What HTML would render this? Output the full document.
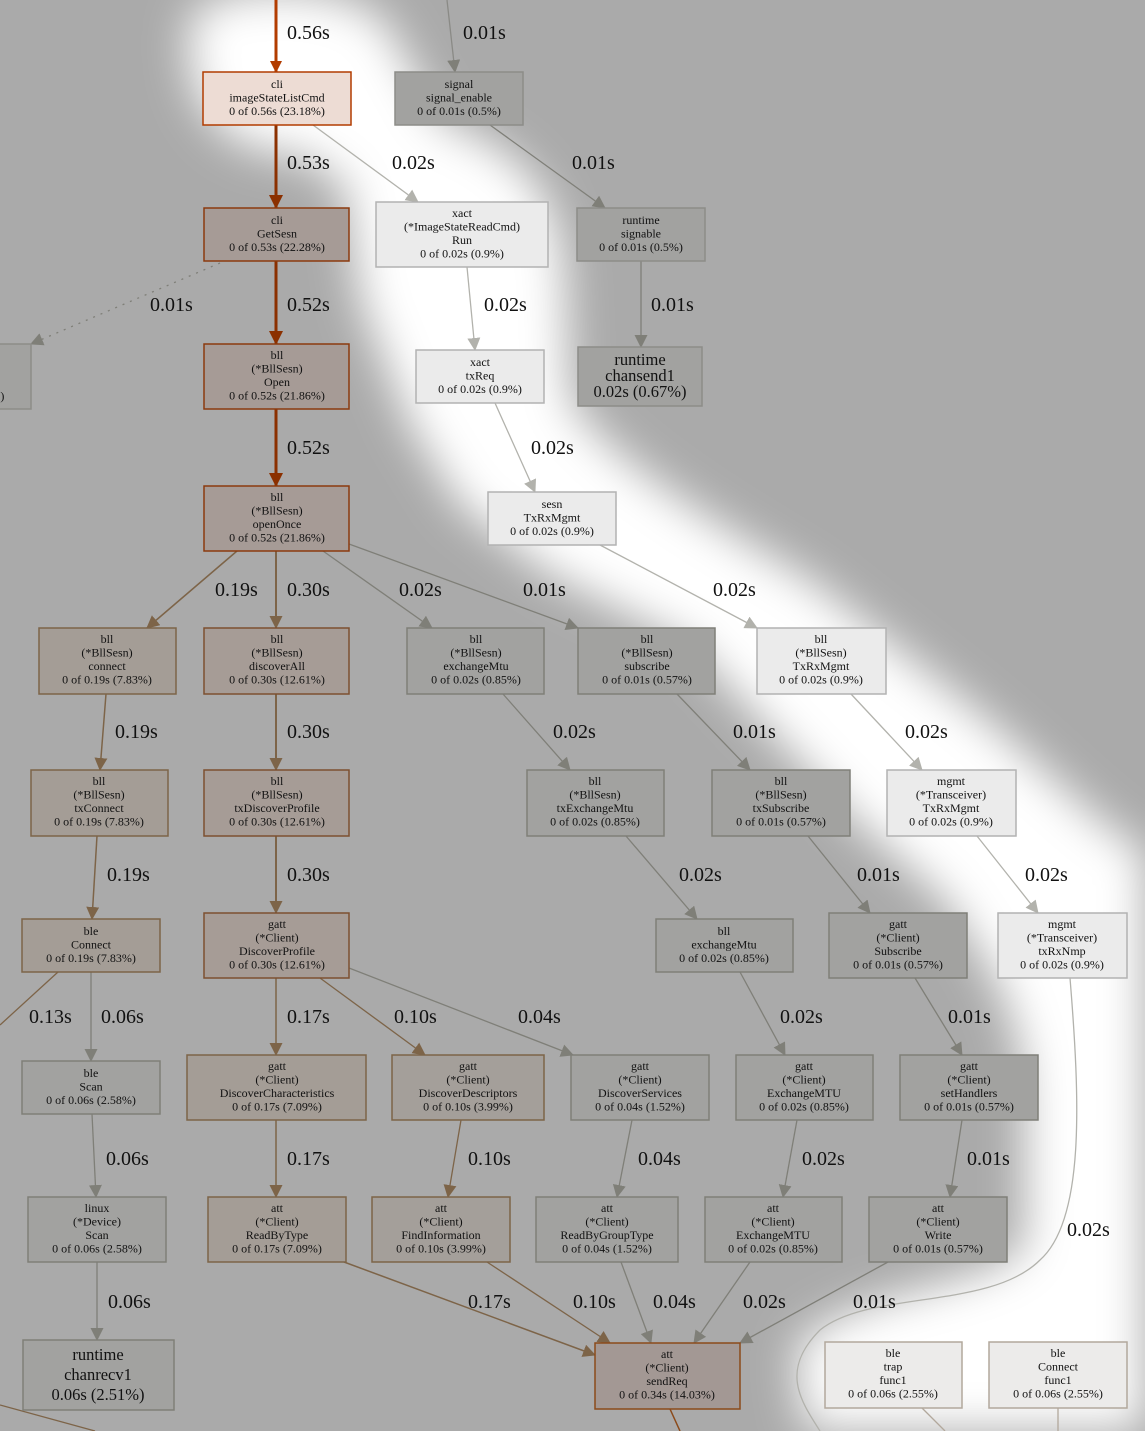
<!DOCTYPE html>
<html><head><meta charset="utf-8"><style>
html,body{margin:0;padding:0;background:#aaaaaa;}
svg{display:block}
text{font-family:"Liberation Serif",serif;fill:#111}
.n text{font-size:12px;text-anchor:middle}
.l{font-size:20px}
.big text{font-size:16.5px}
</style></head><body>
<svg width="1145" height="1431" viewBox="0 0 1145 1431" xmlns="http://www.w3.org/2000/svg">
<defs>
<filter id="b" x="-20%" y="-20%" width="140%" height="140%"><feGaussianBlur stdDeviation="22"/></filter>
<marker id="mr" markerWidth="12" markerHeight="12" refX="11" refY="6" orient="auto" markerUnits="userSpaceOnUse" viewBox="0 0 12 12"><path d="M0,0 L12,6 L0,12z" fill="#b23c00"/></marker>
<marker id="md" markerWidth="14" markerHeight="14" refX="13" refY="7" orient="auto" markerUnits="userSpaceOnUse" viewBox="0 0 14 14"><path d="M0,0 L14,7 L0,14z" fill="#8b3000"/></marker>
<marker id="mb" markerWidth="13" markerHeight="13" refX="12" refY="6.5" orient="auto" markerUnits="userSpaceOnUse" viewBox="0 0 13 13"><path d="M0,0 L13,6.5 L0,13z" fill="#7d6448"/></marker>
<marker id="mg" markerWidth="13" markerHeight="13" refX="12" refY="6.5" orient="auto" markerUnits="userSpaceOnUse" viewBox="0 0 13 13"><path d="M0,0 L13,6.5 L0,13z" fill="#7f7f78"/></marker>
<marker id="ml" markerWidth="13" markerHeight="13" refX="12" refY="6.5" orient="auto" markerUnits="userSpaceOnUse" viewBox="0 0 13 13"><path d="M0,0 L13,6.5 L0,13z" fill="#b2b2ac"/></marker>
</defs>
<rect width="1145" height="1431" fill="#aaaaaa"/>
<path filter="url(#b)" fill="#ffffff" d="M190,20 C210,-20 360,-20 390,30 L440,120 C520,150 560,190 565,280 L570,400 C610,460 710,520 810,580 L950,690 C1040,760 1100,830 1145,850 L1145,1431 L805,1431 L795,1350 C830,1290 1015,1285 1025,1240 L1025,1080 C1015,1000 985,960 945,900 L855,820 L760,720 L690,645 L550,575 L460,505 L410,425 L360,300 L345,185 L300,155 C220,155 180,100 190,20Z"/>

<g fill="none">
<path d="M276,0 L276,72" stroke="#b23c00" stroke-width="3" marker-end="url(#mr)"/>
<path d="M447,0 L455,72" stroke="#8a8a86" stroke-width="1.3" marker-end="url(#mg)"/>
<path d="M276,125 L276,208" stroke="#8b3000" stroke-width="3" marker-end="url(#md)"/>
<path d="M313,125 L418,202" stroke="#b2b2ac" stroke-width="1.3" marker-end="url(#ml)"/>
<path d="M490,125 L605,208" stroke="#7f7f78" stroke-width="1.3" marker-end="url(#mg)"/>
<path d="M220,263 L31,344" stroke="#7f7f78" stroke-width="1.3" stroke-dasharray="2,6" marker-end="url(#mg)"/>
<path d="M276,261 L276,344" stroke="#8b3000" stroke-width="3" marker-end="url(#md)"/>
<path d="M467,267 L475,350" stroke="#b2b2ac" stroke-width="1.3" marker-end="url(#ml)"/>
<path d="M641,261 L641,347" stroke="#7f7f78" stroke-width="1.3" marker-end="url(#mg)"/>
<path d="M276,409 L276,486" stroke="#8b3000" stroke-width="3" marker-end="url(#md)"/>
<path d="M495,403 L535,492" stroke="#b2b2ac" stroke-width="1.3" marker-end="url(#ml)"/>
<path d="M237,551 L147,628" stroke="#7d6448" stroke-width="1.5" marker-end="url(#mb)"/>
<path d="M276,551 L276,628" stroke="#7d6448" stroke-width="2" marker-end="url(#mb)"/>
<path d="M323,551 L432,628" stroke="#7f7f78" stroke-width="1.3" marker-end="url(#mg)"/>
<path d="M349,544 L578,628" stroke="#7f7f78" stroke-width="1.3" marker-end="url(#mg)"/>
<path d="M600,545 L757,628" stroke="#b2b2ac" stroke-width="1.3" marker-end="url(#ml)"/>
<path d="M106,694 L100,770" stroke="#7d6448" stroke-width="1.5" marker-end="url(#mb)"/>
<path d="M276,694 L276,770" stroke="#7d6448" stroke-width="2" marker-end="url(#mb)"/>
<path d="M503,694 L570,770" stroke="#7f7f78" stroke-width="1.3" marker-end="url(#mg)"/>
<path d="M677,694 L750,770" stroke="#7f7f78" stroke-width="1.3" marker-end="url(#mg)"/>
<path d="M851,694 L922,770" stroke="#b2b2ac" stroke-width="1.3" marker-end="url(#ml)"/>
<path d="M97,836 L92,919" stroke="#7d6448" stroke-width="1.5" marker-end="url(#mb)"/>
<path d="M276,836 L276,913" stroke="#7d6448" stroke-width="2" marker-end="url(#mb)"/>
<path d="M626,836 L697,919" stroke="#7f7f78" stroke-width="1.3" marker-end="url(#mg)"/>
<path d="M808,836 L870,913" stroke="#7f7f78" stroke-width="1.3" marker-end="url(#mg)"/>
<path d="M977,836 L1038,913" stroke="#b2b2ac" stroke-width="1.3" marker-end="url(#ml)"/>
<path d="M58,972 L0,1025" stroke="#7d6448" stroke-width="1.3"/>
<path d="M91,972 L91,1061" stroke="#7f7f78" stroke-width="1.3" marker-end="url(#mg)"/>
<path d="M276,978 L276,1055" stroke="#7d6448" stroke-width="1.5" marker-end="url(#mb)"/>
<path d="M320,978 L425,1055" stroke="#7d6448" stroke-width="1.3" marker-end="url(#mb)"/>
<path d="M349,968 L573,1055" stroke="#7f7f78" stroke-width="1.3" marker-end="url(#mg)"/>
<path d="M740,972 L785,1055" stroke="#7f7f78" stroke-width="1.3" marker-end="url(#mg)"/>
<path d="M915,978 L962,1055" stroke="#7f7f78" stroke-width="1.3" marker-end="url(#mg)"/>
<path d="M1070,978 C1080,1100 1085,1220 1040,1260 C990,1310 870,1290 820,1330 C780,1370 800,1400 820,1431" stroke="#b2b2ac" stroke-width="1.3"/>
<path d="M92,1114 L96,1197" stroke="#7f7f78" stroke-width="1.3" marker-end="url(#mg)"/>
<path d="M276,1120 L276,1197" stroke="#7d6448" stroke-width="1.5" marker-end="url(#mb)"/>
<path d="M461,1120 L448,1197" stroke="#7d6448" stroke-width="1.3" marker-end="url(#mb)"/>
<path d="M632,1120 L617,1197" stroke="#7f7f78" stroke-width="1.3" marker-end="url(#mg)"/>
<path d="M797,1120 L783,1197" stroke="#7f7f78" stroke-width="1.3" marker-end="url(#mg)"/>
<path d="M962,1120 L950,1197" stroke="#7f7f78" stroke-width="1.3" marker-end="url(#mg)"/>
<path d="M97,1262 L97,1340" stroke="#7f7f78" stroke-width="1.3" marker-end="url(#mg)"/>
<path d="M344,1262 L595,1355" stroke="#7d6448" stroke-width="1.5" marker-end="url(#mb)"/>
<path d="M487,1262 L610,1343" stroke="#7d6448" stroke-width="1.3" marker-end="url(#mb)"/>
<path d="M621,1262 L651,1343" stroke="#7f7f78" stroke-width="1.3" marker-end="url(#mg)"/>
<path d="M750,1262 L694,1343" stroke="#7f7f78" stroke-width="1.3" marker-end="url(#mg)"/>
<path d="M888,1262 L740,1343" stroke="#7f7f78" stroke-width="1.3" marker-end="url(#mg)"/>
<path d="M0,1405 L95,1431" stroke="#7d6448" stroke-width="1.3"/>
<path d="M670,1409 L680,1431" stroke="#8b4a1a" stroke-width="1.5"/>
<path d="M922,1408 L945,1431" stroke="#b2a89c" stroke-width="1.3"/>
<path d="M1058,1408 L1058,1431" stroke="#b2a89c" stroke-width="1.3"/>
</g>

<g class="l">
<text class="l" x="287" y="39">0.56s</text>
<text class="l" x="463" y="39">0.01s</text>
<text class="l" x="287" y="169">0.53s</text>
<text class="l" x="392" y="169">0.02s</text>
<text class="l" x="572" y="169">0.01s</text>
<text class="l" x="150" y="311">0.01s</text>
<text class="l" x="287" y="311">0.52s</text>
<text class="l" x="484" y="311">0.02s</text>
<text class="l" x="651" y="311">0.01s</text>
<text class="l" x="287" y="454">0.52s</text>
<text class="l" x="531" y="454">0.02s</text>
<text class="l" x="215" y="596">0.19s</text>
<text class="l" x="287" y="596">0.30s</text>
<text class="l" x="399" y="596">0.02s</text>
<text class="l" x="523" y="596">0.01s</text>
<text class="l" x="713" y="596">0.02s</text>
<text class="l" x="115" y="738">0.19s</text>
<text class="l" x="287" y="738">0.30s</text>
<text class="l" x="553" y="738">0.02s</text>
<text class="l" x="733" y="738">0.01s</text>
<text class="l" x="905" y="738">0.02s</text>
<text class="l" x="107" y="881">0.19s</text>
<text class="l" x="287" y="881">0.30s</text>
<text class="l" x="679" y="881">0.02s</text>
<text class="l" x="857" y="881">0.01s</text>
<text class="l" x="1025" y="881">0.02s</text>
<text class="l" x="29" y="1023">0.13s</text>
<text class="l" x="101" y="1023">0.06s</text>
<text class="l" x="287" y="1023">0.17s</text>
<text class="l" x="394" y="1023">0.10s</text>
<text class="l" x="518" y="1023">0.04s</text>
<text class="l" x="780" y="1023">0.02s</text>
<text class="l" x="948" y="1023">0.01s</text>
<text class="l" x="106" y="1165">0.06s</text>
<text class="l" x="287" y="1165">0.17s</text>
<text class="l" x="468" y="1165">0.10s</text>
<text class="l" x="638" y="1165">0.04s</text>
<text class="l" x="802" y="1165">0.02s</text>
<text class="l" x="967" y="1165">0.01s</text>
<text class="l" x="1067" y="1236">0.02s</text>
<text class="l" x="108" y="1308">0.06s</text>
<text class="l" x="468" y="1308">0.17s</text>
<text class="l" x="573" y="1308">0.10s</text>
<text class="l" x="653" y="1308">0.04s</text>
<text class="l" x="743" y="1308">0.02s</text>
<text class="l" x="853" y="1308">0.01s</text>
</g>

<g class="n" stroke-width="1.5">
<rect x="203" y="72" width="148" height="53" fill="#eddcd4" stroke="#b23c00"/>
<text x="277" y="88">cli</text><text x="277" y="101.5">imageStateListCmd</text><text x="277" y="115">0 of 0.56s (23.18%)</text>

<rect x="395" y="72" width="128" height="53" fill="#a2a2a0" stroke="#8c8c88"/>
<text x="459" y="88">signal</text><text x="459" y="101.5">signal_enable</text><text x="459" y="115">0 of 0.01s (0.5%)</text>

<rect x="204" y="208" width="145" height="53" fill="#a69b96" stroke="#8b3a0e"/>
<text x="277" y="224">cli</text><text x="277" y="237.5">GetSesn</text><text x="277" y="251">0 of 0.53s (22.28%)</text>

<rect x="376" y="202" width="172" height="65" fill="#ebebeb" stroke="#b2b2b2"/>
<text x="462" y="217">xact</text><text x="462" y="230.5">(*ImageStateReadCmd)</text><text x="462" y="244">Run</text><text x="462" y="257.5">0 of 0.02s (0.9%)</text>

<rect x="577" y="208" width="128" height="53" fill="#a2a2a0" stroke="#8c8c88"/>
<text x="641" y="224">runtime</text><text x="641" y="237.5">signable</text><text x="641" y="251">0 of 0.01s (0.5%)</text>

<rect x="-20" y="344" width="51" height="65" fill="#a2a2a0" stroke="#8c8c88"/>
<text x="0" y="400">s)</text>

<rect x="204" y="344" width="145" height="65" fill="#a69b96" stroke="#8b3a0e"/>
<text x="277" y="359">bll</text><text x="277" y="372.5">(*BllSesn)</text><text x="277" y="386">Open</text><text x="277" y="399.5">0 of 0.52s (21.86%)</text>

<rect x="416" y="350" width="128" height="53" fill="#ebebeb" stroke="#b2b2b2"/>
<text x="480" y="366">xact</text><text x="480" y="379.5">txReq</text><text x="480" y="393">0 of 0.02s (0.9%)</text>

<g class="big"><rect x="578" y="347" width="124" height="59" fill="#a2a2a0" stroke="#8c8c88"/>
<text x="640" y="365">runtime</text><text x="640" y="381">chansend1</text><text x="640" y="397">0.02s (0.67%)</text></g>

<rect x="204" y="486" width="145" height="65" fill="#a69b96" stroke="#8b3a0e"/>
<text x="277" y="501">bll</text><text x="277" y="514.5">(*BllSesn)</text><text x="277" y="528">openOnce</text><text x="277" y="541.5">0 of 0.52s (21.86%)</text>

<rect x="488" y="492" width="128" height="53" fill="#ebebeb" stroke="#b2b2b2"/>
<text x="552" y="508">sesn</text><text x="552" y="521.5">TxRxMgmt</text><text x="552" y="535">0 of 0.02s (0.9%)</text>

<rect x="39" y="628" width="137" height="66" fill="#a49d96" stroke="#7d6448"/>
<text x="107" y="643">bll</text><text x="107" y="656.5">(*BllSesn)</text><text x="107" y="670">connect</text><text x="107" y="683.5">0 of 0.19s (7.83%)</text>

<rect x="204" y="628" width="145" height="66" fill="#a69c96" stroke="#7d5030"/>
<text x="277" y="643">bll</text><text x="277" y="656.5">(*BllSesn)</text><text x="277" y="670">discoverAll</text><text x="277" y="683.5">0 of 0.30s (12.61%)</text>

<rect x="407" y="628" width="137" height="66" fill="#a2a2a0" stroke="#7f7f78"/>
<text x="476" y="643">bll</text><text x="476" y="656.5">(*BllSesn)</text><text x="476" y="670">exchangeMtu</text><text x="476" y="683.5">0 of 0.02s (0.85%)</text>

<rect x="578" y="628" width="137" height="66" fill="#a2a2a0" stroke="#7f7f78"/>
<text x="647" y="643">bll</text><text x="647" y="656.5">(*BllSesn)</text><text x="647" y="670">subscribe</text><text x="647" y="683.5">0 of 0.01s (0.57%)</text>

<rect x="757" y="628" width="129" height="66" fill="#ebebeb" stroke="#b2b2b2"/>
<text x="821" y="643">bll</text><text x="821" y="656.5">(*BllSesn)</text><text x="821" y="670">TxRxMgmt</text><text x="821" y="683.5">0 of 0.02s (0.9%)</text>

<rect x="31" y="770" width="137" height="66" fill="#a49d96" stroke="#7d6448"/>
<text x="99" y="785">bll</text><text x="99" y="798.5">(*BllSesn)</text><text x="99" y="812">txConnect</text><text x="99" y="825.5">0 of 0.19s (7.83%)</text>

<rect x="204" y="770" width="145" height="66" fill="#a69c96" stroke="#7d5030"/>
<text x="277" y="785">bll</text><text x="277" y="798.5">(*BllSesn)</text><text x="277" y="812">txDiscoverProfile</text><text x="277" y="825.5">0 of 0.30s (12.61%)</text>

<rect x="527" y="770" width="137" height="66" fill="#a2a2a0" stroke="#7f7f78"/>
<text x="595" y="785">bll</text><text x="595" y="798.5">(*BllSesn)</text><text x="595" y="812">txExchangeMtu</text><text x="595" y="825.5">0 of 0.02s (0.85%)</text>

<rect x="712" y="770" width="138" height="66" fill="#a2a2a0" stroke="#7f7f78"/>
<text x="781" y="785">bll</text><text x="781" y="798.5">(*BllSesn)</text><text x="781" y="812">txSubscribe</text><text x="781" y="825.5">0 of 0.01s (0.57%)</text>

<rect x="887" y="770" width="129" height="66" fill="#ebebeb" stroke="#b2b2b2"/>
<text x="951" y="785">mgmt</text><text x="951" y="798.5">(*Transceiver)</text><text x="951" y="812">TxRxMgmt</text><text x="951" y="825.5">0 of 0.02s (0.9%)</text>

<rect x="22" y="919" width="138" height="53" fill="#a49d96" stroke="#7d6448"/>
<text x="91" y="935">ble</text><text x="91" y="948.5">Connect</text><text x="91" y="962">0 of 0.19s (7.83%)</text>

<rect x="204" y="913" width="145" height="65" fill="#a69c96" stroke="#7d5030"/>
<text x="277" y="928">gatt</text><text x="277" y="941.5">(*Client)</text><text x="277" y="955">DiscoverProfile</text><text x="277" y="968.5">0 of 0.30s (12.61%)</text>

<rect x="656" y="919" width="137" height="53" fill="#a2a2a0" stroke="#7f7f78"/>
<text x="724" y="935">bll</text><text x="724" y="948.5">exchangeMtu</text><text x="724" y="962">0 of 0.02s (0.85%)</text>

<rect x="829" y="913" width="138" height="65" fill="#a2a2a0" stroke="#7f7f78"/>
<text x="898" y="928">gatt</text><text x="898" y="941.5">(*Client)</text><text x="898" y="955">Subscribe</text><text x="898" y="968.5">0 of 0.01s (0.57%)</text>

<rect x="998" y="913" width="129" height="65" fill="#ebebeb" stroke="#b2b2b2"/>
<text x="1062" y="928">mgmt</text><text x="1062" y="941.5">(*Transceiver)</text><text x="1062" y="955">txRxNmp</text><text x="1062" y="968.5">0 of 0.02s (0.9%)</text>

<rect x="22" y="1061" width="138" height="53" fill="#a2a2a0" stroke="#7f7f78"/>
<text x="91" y="1077">ble</text><text x="91" y="1090.5">Scan</text><text x="91" y="1104">0 of 0.06s (2.58%)</text>

<rect x="187" y="1055" width="179" height="65" fill="#a49d96" stroke="#7d6448"/>
<text x="277" y="1070">gatt</text><text x="277" y="1083.5">(*Client)</text><text x="277" y="1097">DiscoverCharacteristics</text><text x="277" y="1110.5">0 of 0.17s (7.09%)</text>

<rect x="392" y="1055" width="152" height="65" fill="#a49f9a" stroke="#7d6448"/>
<text x="468" y="1070">gatt</text><text x="468" y="1083.5">(*Client)</text><text x="468" y="1097">DiscoverDescriptors</text><text x="468" y="1110.5">0 of 0.10s (3.99%)</text>

<rect x="571" y="1055" width="138" height="65" fill="#a2a2a0" stroke="#7f7f78"/>
<text x="640" y="1070">gatt</text><text x="640" y="1083.5">(*Client)</text><text x="640" y="1097">DiscoverServices</text><text x="640" y="1110.5">0 of 0.04s (1.52%)</text>

<rect x="736" y="1055" width="137" height="65" fill="#a2a2a0" stroke="#7f7f78"/>
<text x="804" y="1070">gatt</text><text x="804" y="1083.5">(*Client)</text><text x="804" y="1097">ExchangeMTU</text><text x="804" y="1110.5">0 of 0.02s (0.85%)</text>

<rect x="900" y="1055" width="138" height="65" fill="#a2a2a0" stroke="#7f7f78"/>
<text x="969" y="1070">gatt</text><text x="969" y="1083.5">(*Client)</text><text x="969" y="1097">setHandlers</text><text x="969" y="1110.5">0 of 0.01s (0.57%)</text>

<rect x="28" y="1197" width="138" height="65" fill="#a2a2a0" stroke="#7f7f78"/>
<text x="97" y="1212">linux</text><text x="97" y="1225.5">(*Device)</text><text x="97" y="1239">Scan</text><text x="97" y="1252.5">0 of 0.06s (2.58%)</text>

<rect x="208" y="1197" width="138" height="65" fill="#a49d96" stroke="#7d6448"/>
<text x="277" y="1212">att</text><text x="277" y="1225.5">(*Client)</text><text x="277" y="1239">ReadByType</text><text x="277" y="1252.5">0 of 0.17s (7.09%)</text>

<rect x="372" y="1197" width="138" height="65" fill="#a49f9a" stroke="#7d6448"/>
<text x="441" y="1212">att</text><text x="441" y="1225.5">(*Client)</text><text x="441" y="1239">FindInformation</text><text x="441" y="1252.5">0 of 0.10s (3.99%)</text>

<rect x="536" y="1197" width="142" height="65" fill="#a2a2a0" stroke="#7f7f78"/>
<text x="607" y="1212">att</text><text x="607" y="1225.5">(*Client)</text><text x="607" y="1239">ReadByGroupType</text><text x="607" y="1252.5">0 of 0.04s (1.52%)</text>

<rect x="705" y="1197" width="137" height="65" fill="#a2a2a0" stroke="#7f7f78"/>
<text x="773" y="1212">att</text><text x="773" y="1225.5">(*Client)</text><text x="773" y="1239">ExchangeMTU</text><text x="773" y="1252.5">0 of 0.02s (0.85%)</text>

<rect x="869" y="1197" width="138" height="65" fill="#a2a2a0" stroke="#7f7f78"/>
<text x="938" y="1212">att</text><text x="938" y="1225.5">(*Client)</text><text x="938" y="1239">Write</text><text x="938" y="1252.5">0 of 0.01s (0.57%)</text>

<g class="big"><rect x="23" y="1340" width="151" height="70" fill="#a2a2a0" stroke="#7f7f78"/>
<text x="98" y="1360">runtime</text><text x="98" y="1380">chanrecv1</text><text x="98" y="1400">0.06s (2.51%)</text></g>

<rect x="595" y="1343" width="145" height="66" fill="#a39894" stroke="#8b4a1a"/>
<text x="667" y="1358">att</text><text x="667" y="1371.5">(*Client)</text><text x="667" y="1385">sendReq</text><text x="667" y="1398.5">0 of 0.34s (14.03%)</text>

<rect x="825" y="1342" width="137" height="66" fill="#ecebea" stroke="#b2a89c"/>
<text x="893" y="1357">ble</text><text x="893" y="1370.5">trap</text><text x="893" y="1384">func1</text><text x="893" y="1397.5">0 of 0.06s (2.55%)</text>

<rect x="989" y="1342" width="138" height="66" fill="#ecebea" stroke="#b2a89c"/>
<text x="1058" y="1357">ble</text><text x="1058" y="1370.5">Connect</text><text x="1058" y="1384">func1</text><text x="1058" y="1397.5">0 of 0.06s (2.55%)</text>
</g>
</svg>
</body></html>
